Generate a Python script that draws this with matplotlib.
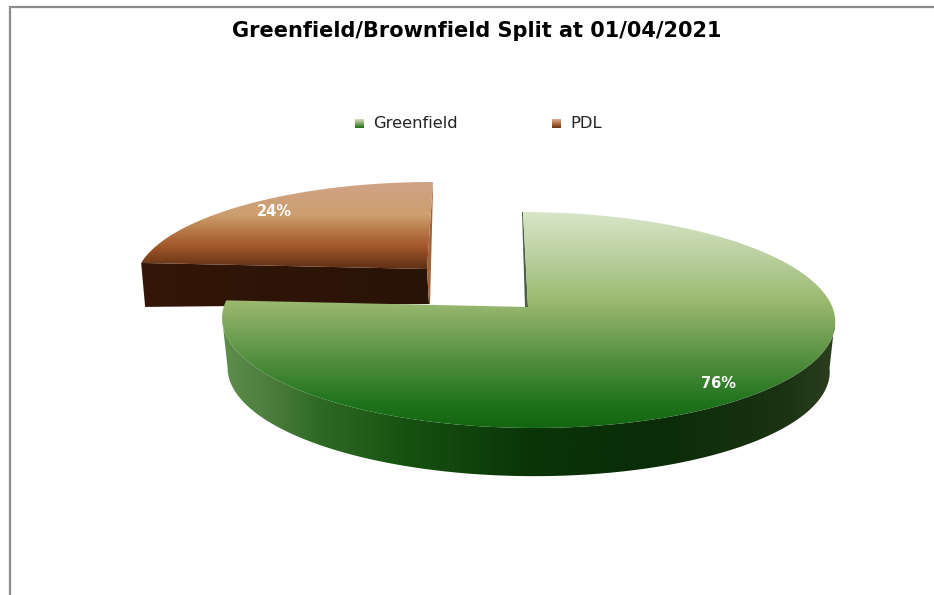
import numpy as np
import matplotlib
matplotlib.use('Agg')
import matplotlib.pyplot as plt
from matplotlib.colors import LinearSegmentedColormap
from matplotlib.patches import Polygon

title = 'Greenfield/Brownfield Split at 01/04/2021'
categories = ['Greenfield', 'PDL']
shares = [76, 24]

WIDTH, HEIGHT = 934, 595

# colour stops: (pixel position, colour)
green_top = [(212, '#d8e6c8'), (255, '#bbd0a0'), (300, '#9cba72'), (350, '#5f9547'), (400, '#22751f'), (428, '#136510')]
green_side = [(222, '#5f8f4c'), (277, '#4a7a3a'), (320, '#2e6a24'), (410, '#165010'), (530, '#0a3508'),
              (650, '#0a2c08'), (780, '#1a3212'), (835, '#2c3f1e')]
brown_top = [(182, '#cfa387'), (215, '#cd9e6e'), (230, '#b87a48'), (247, '#a0562a'), (269, '#5e2f14')]
brown_side = [(141, '#331708'), (430, '#291206')]


def make_cmap(stops):
    lo, hi = stops[0][0], stops[-1][0]
    return LinearSegmentedColormap.from_list('grad', [((p - lo) / (hi - lo), c) for p, c in stops], N=1024)


def gradient(ax, stops, clip, vertical=True, box=None):
    # paint a gradient over box and cut it down to the polygon
    lo, hi = stops[0][0], stops[-1][0]
    ramp = np.linspace(0, 1, 1024)
    data = ramp.reshape(-1, 1) if vertical else ramp.reshape(1, -1)
    if box is None:
        box = (0, WIDTH, hi, lo) if vertical else (lo, hi, HEIGHT, 0)
    patch = Polygon(clip, closed=True, transform=ax.transData, facecolor='none', edgecolor='none')
    ax.add_patch(patch)
    im = ax.imshow(data, cmap=make_cmap(stops), extent=box, aspect='auto', interpolation='bilinear', zorder=patch.get_zorder())
    im.set_clip_path(patch)


def rim(theta, cx, cy, a, b, shear, k=0.1204):
    # perspective circle, theta clockwise from 12 o'clock
    u, v = np.sin(theta), np.cos(theta)
    w = 1 + k * v
    return np.column_stack([cx + (a * u + shear * v) / w, cy - b * v / w])


fig = plt.figure(figsize=(WIDTH / 100, HEIGHT / 100), dpi=100)
ax = fig.add_axes([0, 0, 1, 1])

# chart border
ax.plot([9.5, 9.5, WIDTH], [HEIGHT, 6.5, 6.5], color='#8c8c8c', lw=1.6, solid_joinstyle='miter')

# slice angles come from the shares
cut = 2 * np.pi * shares[0] / sum(shares)

# brown slice, pulled out
apex_b = np.array([427.0, 269.0])
t_b = np.linspace(cut, 2 * np.pi, 150)
arc_b = rim(t_b, apex_b[0], apex_b[1], 289, 97.5, 6.7)
left_b = arc_b[0]
far_b = arc_b[-1]
gradient(ax, brown_side, [left_b, apex_b, apex_b + (2, 35), left_b + (4, 44)], vertical=False)
ax.add_patch(Polygon([far_b, apex_b, apex_b + (2, 35), apex_b + (3, 35), far_b + (0, 8)], closed=True,
                     facecolor='#a06238', edgecolor='none'))
gradient(ax, brown_top, np.vstack([arc_b, apex_b]))

# green slice
cx, cy, a, b, shear = 528.0, 307.0, 304.3, 106.4, -5.6
t_g = np.linspace(0, cut, 400)
arc_g = rim(t_g, cx, cy, a, b, shear)
apex_g = np.array([cx, cy])

# wall seen at the start of the cut
ax.add_patch(Polygon([arc_g[0], apex_g, apex_g + (-3, 0), arc_g[0] + (-1, 0)], closed=True,
                     facecolor='#4f5f47', edgecolor='none'))

# outer wall, front part of the rim only
t_side = np.linspace(np.radians(96), np.radians(264), 300)
upper = rim(t_side, cx, cy, a, b, shear)
lower = np.column_stack([cx + (upper[:, 0] - cx) * 0.982, cy + (upper[:, 1] - cy) * 0.985 + 50])
gradient(ax, green_side, np.vstack([upper, lower[::-1]]), vertical=False)

gradient(ax, green_top, np.vstack([arc_g, apex_g]))

# value labels
ax.text(718, 383, f'{shares[0]}%', color='white', fontsize=10.5, fontweight='bold', ha='center', va='center')
ax.text(274, 212, f'{shares[1]}%', color='white', fontsize=10.5, fontweight='bold', ha='center', va='center')

# title and legend
ax.text(477, 31, title, color='black', fontsize=15, fontweight='bold', ha='center', va='center')

swatch_green = [(119, '#d4e2c4'), (123, '#8fb070'), (128, '#1a6e17')]
swatch_brown = [(119, '#d8b09a'), (123, '#b9774a'), (128, '#6a3210')]
for x0, swatch, name in zip([355, 552], [swatch_green, swatch_brown], categories):
    box = [(x0, 119), (x0 + 9, 119), (x0 + 9, 128), (x0, 128)]
    gradient(ax, swatch, box, box=(x0, x0 + 9, 128, 119))
    ax.text(x0 + 18, 123.5, name, color='#222222', fontsize=11.8, ha='left', va='center')

ax.set_xlim(0, WIDTH)
ax.set_ylim(HEIGHT, 0)
ax.axis('off')

fig.savefig('out.png', dpi=100, facecolor='white')
